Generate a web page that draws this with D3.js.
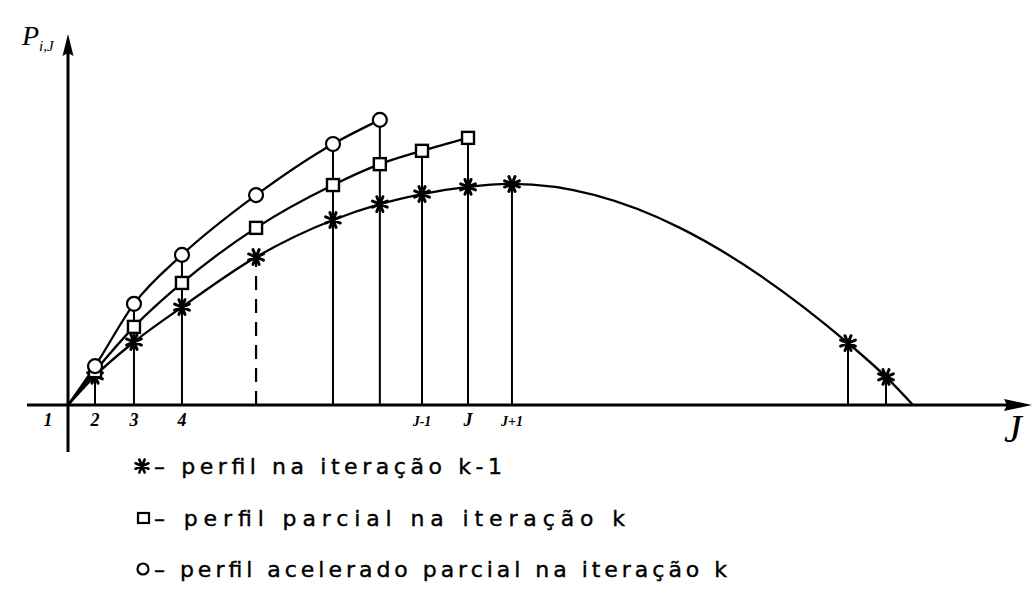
<!DOCTYPE html>
<html>
<head>
<meta charset="utf-8">
<script src="https://cdn.jsdelivr.net/npm/d3@7"></script>
<style>
  html, body { margin: 0; padding: 0; background: #fff; }
  svg { display: block; }
</style>
</head>
<body>
<svg id="chart" width="1032" height="612"></svg>
<script>
// Profile P(i,J) along the J nodes, three iteration profiles.
// x: node position along J (arbitrary units), y: profile value (arbitrary units)

// perfil na iteração k-1 (full profile, ends back on the axis)
const starX = [0, 2.86, 6.98, 12.06, 19.9, 28.04, 33.0, 37.46, 42.33, 46.98, 82.54, 86.56, 89.42];
const starY = [0, 8.1, 17.5, 27.2, 41.1, 51.4, 55.8, 58.6, 60.6, 61.4, 17.2, 7.8, 0];

// perfil parcial na iteração k (up to node J)
const squareX = [0, 2.86, 6.98, 12.06, 19.9, 28.04, 33.0, 37.46, 42.33];
const squareY = [0, 9.4, 21.7, 33.9, 49.2, 61.1, 66.9, 70.6, 74.2];

// perfil acelerado parcial na iteração k
const circleX = [0, 2.86, 6.98, 12.06, 19.9, 28.04, 33.0];
const circleY = [0, 10.8, 28.1, 41.7, 58.3, 72.5, 79.2];

// node drawn with a dashed ordinate
const dashedNodeX = [19.9];

// labelled nodes on the J axis
const tickX = [0, 2.86, 6.98, 12.06, 37.46, 42.33, 46.98];
const tickText = ["1", "2", "3", "4", "J-1", "J", "J+1"];

const legendText = [
  "– perfil na iteração k-1",
  "– perfil parcial na iteração k",
  "– perfil acelerado parcial na iteração k"
];

const svg = d3.select("#chart");
const x = d3.scaleLinear().domain([0, 100]).range([68, 1013]);
const y = d3.scaleLinear().domain([0, 100]).range([405, 45]);

const zip = (xs, ys) => xs.map((v, i) => ({ x: v, y: ys[i] }));
const stars = zip(starX, starY);
const squares = zip(squareX, squareY);
const circles = zip(circleX, circleY);

const ink = "#000";

// --- ordinates at each node (drawn below the curves) ---
const nodeTop = new Map();
[stars, squares, circles].forEach(series => {
  series.forEach(p => {
    if (p.y <= 0) return;
    nodeTop.set(p.x, Math.max(nodeTop.get(p.x) || 0, p.y));
  });
});
const nodes = Array.from(nodeTop, ([nx, ny]) => ({ x: nx, top: ny }));

svg.append("g").selectAll("line")
  .data(nodes)
  .join("line")
  .attr("x1", d => x(d.x)).attr("x2", d => x(d.x))
  .attr("y1", y(0))
  .attr("y2", d => dashedNodeX.includes(d.x)
      ? y(starY[starX.indexOf(d.x)])
      : y(d.top))
  .attr("stroke", ink)
  .attr("stroke-width", d => dashedNodeX.includes(d.x) ? 2.2 : 2)
  .attr("stroke-dasharray", d => dashedNodeX.includes(d.x) ? "14,9" : null);

// --- axes with arrow heads ---
const x0 = x(0), y0 = y(0);
svg.append("line")
  .attr("x1", 27).attr("x2", 1012)
  .attr("y1", y0).attr("y2", y0)
  .attr("stroke", ink).attr("stroke-width", 3);
svg.append("path")
  .attr("d", `M1032,${y0} L1004,${y0 - 6} L1007,${y0} L1004,${y0 + 6} Z`)
  .attr("fill", ink);

svg.append("line")
  .attr("x1", x0).attr("x2", x0)
  .attr("y1", 452).attr("y2", 50)
  .attr("stroke", ink).attr("stroke-width", 3);
svg.append("path")
  .attr("d", `M${x0},34 L${x0 - 5.5},56 L${x0},53 L${x0 + 5.5},56 Z`)
  .attr("fill", ink);

// --- profile curves ---
const line = d3.line()
  .x(d => x(d.x)).y(d => y(d.y))
  .curve(d3.curveMonotoneX);

svg.append("g")
  .selectAll("path")
  .data([stars, squares, circles])
  .join("path")
  .attr("d", line)
  .attr("fill", "none")
  .attr("stroke", ink)
  .attr("stroke-width", 2.3);

// --- markers ---
function starPath(r) {
  const p = d3.path();
  for (let k = 0; k < 4; k++) {
    const a = k * Math.PI / 4 + Math.PI / 8;
    p.moveTo(-r * Math.cos(a), -r * Math.sin(a));
    p.lineTo(r * Math.cos(a), r * Math.sin(a));
  }
  return p.toString();
}

svg.append("g").selectAll("path")
  .data(stars.filter(d => d.y > 0))
  .join("path")
  .attr("transform", d => `translate(${x(d.x)},${y(d.y)})`)
  .attr("d", starPath(8))
  .attr("stroke", ink).attr("stroke-width", 3)
  .attr("stroke-linecap", "round");

svg.append("g").selectAll("rect")
  .data(squares.filter(d => d.y > 0))
  .join("rect")
  .attr("x", d => x(d.x) - 6).attr("y", d => y(d.y) - 6)
  .attr("width", 12).attr("height", 12)
  .attr("fill", "#fff").attr("stroke", ink).attr("stroke-width", 2.4);

svg.append("g").selectAll("circle")
  .data(circles.filter(d => d.y > 0))
  .join("circle")
  .attr("cx", d => x(d.x)).attr("cy", d => y(d.y))
  .attr("r", 7)
  .attr("fill", "#fff").attr("stroke", ink).attr("stroke-width", 2.2);

// --- node labels ---
svg.append("g").selectAll("text")
  .data(tickX.map((v, i) => ({ x: v, t: tickText[i] })))
  .join("text")
  .attr("x", d => x(d.x) + (d.x === 0 ? -20 : 0))
  .attr("y", 426)
  .attr("text-anchor", "middle")
  .attr("font-family", "Liberation Serif")
  .attr("font-style", "italic")
  .attr("font-weight", "bold")
  .attr("font-size", d => d.t.length > 1 ? 14 : 18)
  .text(d => d.t);

// --- axis titles ---
const yTitle = svg.append("text")
  .attr("x", 22).attr("y", 45)
  .attr("font-family", "Liberation Serif")
  .attr("font-style", "italic")
  .attr("font-size", 28);
yTitle.append("tspan").text("P");
yTitle.append("tspan").attr("font-size", 15).attr("dy", 6).text("i,J");

svg.append("text")
  .attr("x", 1004).attr("y", 442)
  .attr("font-family", "Liberation Serif")
  .attr("font-style", "italic")
  .attr("font-size", 40)
  .text("J");

// --- legend ---
const legendY = [466, 518, 569];
const legendEnd = [502, 625, 727];
const legend = svg.append("g");

legend.append("path")
  .attr("transform", `translate(142,${legendY[0]})`)
  .attr("d", starPath(7))
  .attr("stroke", ink).attr("stroke-width", 2.6).attr("stroke-linecap", "round");
legend.append("rect")
  .attr("x", 138).attr("y", legendY[1] - 5)
  .attr("width", 11).attr("height", 10)
  .attr("fill", "none").attr("stroke", ink).attr("stroke-width", 2.2);
legend.append("circle")
  .attr("cx", 143).attr("cy", legendY[2])
  .attr("r", 5.5)
  .attr("fill", "none").attr("stroke", ink).attr("stroke-width", 2.2);

legend.selectAll("text")
  .data(legendText)
  .join("text")
  .attr("x", 154)
  .attr("y", (d, i) => legendY[i] + 8)
  .attr("font-family", "DejaVu Sans")
  .attr("font-size", 22)
  .attr("stroke", ink)
  .attr("stroke-width", 0.4)
  .attr("textLength", (d, i) => legendEnd[i] - 154)
  .attr("lengthAdjust", "spacing")
  .text(d => d);
</script>
</body>
</html>
